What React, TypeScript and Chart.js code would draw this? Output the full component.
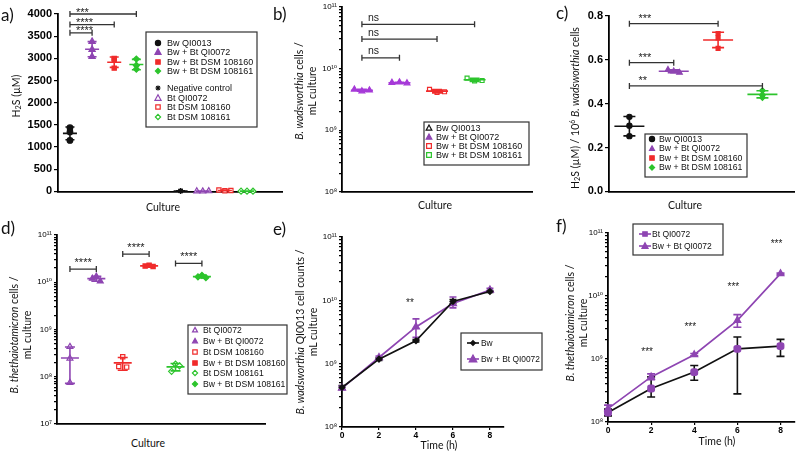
import React, { useEffect, useRef } from 'react';
import { Chart, registerables } from 'chart.js';
Chart.register(...registerables);

// ---------------- DATA ----------------
// a) H2S production (µM)
const A_CATEGORIES = ['Bw QI0013', 'Bw + Bt QI0072', 'Bw + Bt DSM 108160', 'Bw + Bt DSM 108161', '', 'Negative control', 'Bt QI0072', 'Bt DSM 108160', 'Bt DSM 108161'];
const A_REPLICATES: (number[] | null)[] = [[1435, 1340, 1150], [3380, 3200, 3040], [3000, 2960, 2780], [2985, 2840, 2755], null, [12, 10, 8], [6, 3, 8], [30, 14, 20], [6, 6, 4]];
const A_Y_MAX = 4000;
const A_Y_STEP = 500;
const A_BRACKET_FROM = [0, 0, 0];
const A_BRACKET_TO = [1, 2, 3];
const A_BRACKET_Y = [3576, 3762, 4000];
const A_BRACKET_LABELS = ['****', '****', '***'];

// b) B. wadsworthia cells / mL
const B_CATEGORIES = ['Bw QI0013', 'Bw + Bt QI0072', 'Bw + Bt DSM 108160', 'Bw + Bt DSM 108161'];
const B_REPLICATES = [[4.6e9, 4.3e9, 4.45e9], [5.9e9, 6.0e9, 5.8e9], [4.6e9, 4.1e9, 4.2e9], [7.0e9, 6.3e9, 6.4e9]];
const B_BRACKET_FROM = [0, 0, 0];
const B_BRACKET_TO = [1, 2, 3];
const B_BRACKET_Y = [1.49e10, 3.0e10, 5.2e10];
const B_BRACKET_LABELS = ['ns', 'ns', 'ns'];

// c) H2S per 10^6 B. wadsworthia cells
const C_CATEGORIES = ['Bw QI0013', 'Bw + Bt QI0072', 'Bw + Bt DSM 108160', 'Bw + Bt DSM 108161'];
const C_REPLICATES = [[0.34, 0.3, 0.252], [0.555, 0.548, 0.542], [0.72, 0.7, 0.652], [0.46, 0.44, 0.428]];
const C_Y_MAX = 0.8;
const C_Y_STEP = 0.2;
const C_BRACKET_FROM = [0, 0, 0];
const C_BRACKET_TO = [2, 1, 3];
const C_BRACKET_Y = [0.765, 0.587, 0.481];
const C_BRACKET_LABELS = ['***', '***', '**'];

// d) B. thetaiotaomicron cells / mL
const D_CATEGORIES = ['Bt QI0072', 'Bw + Bt QI0072', 'Bt DSM 108160', 'Bw + Bt DSM 108160', 'Bt DSM 108161', 'Bw + Bt DSM 108161'];
const D_REPLICATES = [[4.3e8, 2.45e8, 0.75e8], [1.2e10, 1.33e10, 1.05e10], [1.65e8, 2.65e8, 1.6e8], [2.2e10, 2.3e10, 2.15e10], [1.3e8, 1.85e8, 1.7e8], [1.3e10, 1.4e10, 1.25e10]];
const D_BRACKET_FROM = [0, 2, 4];
const D_BRACKET_TO = [1, 3, 5];
const D_BRACKET_Y = [1.9e10, 3.95e10, 2.5e10];
const D_BRACKET_LABELS = ['****', '****', '****'];

// e) B. wadsworthia growth
const E_TIME = [0, 2, 4, 6, 8];
const E_BW = [4.2e8, 1.18e9, 2.3e9, 9.6e9, 1.38e10];
const E_BW_LOW = [3.9e8, 1.12e9, 2.2e9, 8.9e9, 1.33e10];
const E_BW_HIGH = [4.5e8, 1.25e9, 2.4e9, 1.03e10, 1.43e10];
const E_BWBT = [4.1e8, 1.25e9, 3.8e9, 8.9e9, 1.45e10];
const E_BWBT_LOW = [3.9e8, 1.18e9, 2.6e9, 7.6e9, 1.38e10];
const E_BWBT_HIGH = [4.4e8, 1.32e9, 5.1e9, 1.13e10, 1.55e10];
const E_SIG_TIME = [4];
const E_SIG_Y = [9e9];
const E_SIG_LABELS = ['**'];

// f) B. thetaiotaomicron growth
const F_TIME = [0, 2, 4, 6, 8];
const F_BT = [1.41e8, 3.4e8, 6.2e8, 1.45e9, 1.6e9];
const F_BT_LOW = [1.25e8, 2.5e8, 4.6e8, 2.8e8, 1.1e9];
const F_BT_HIGH = [1.6e8, 5.2e8, 7.9e8, 2.23e9, 2.05e9];
const F_BWBT = [1.63e8, 5.2e8, 1.17e9, 4.1e9, 2.26e10];
const F_BWBT_LOW = [1.45e8, 4.7e8, 1.12e9, 3.2e9, 2.2e10];
const F_BWBT_HIGH = [1.85e8, 5.8e8, 1.22e9, 5.06e9, 2.32e10];
const F_SIG_TIME = [2, 4, 6, 8];
const F_SIG_Y = [1.3e9, 3.2e9, 1.4e10, 6.7e10];
const F_SIG_LABELS = ['***', '***', '***', '***'];

// ---------------- STYLE ----------------
const PURPLE = '#8E45B2';
const B_PURPLE = '#A63AD8';
const RED = '#F02B2B';
const GREEN = '#2CC42C';
const BLACK = '#111111';
const FONT_SANS = "'Liberation Sans', 'DejaVu Sans', Arial, sans-serif";
const FONT_TITLE = "Lato, 'Liberation Sans', sans-serif";

type MarkerStyle = 'circle' | 'triangle' | 'rect' | 'rectRounded' | 'rectRot' | 'star';
type Marker = { style: MarkerStyle; color: string; fill: boolean; r: number; line?: string };

const A_STYLES: (Marker | null)[] = [
  { style: 'circle', color: BLACK, fill: true, r: 2.8 },
  { style: 'triangle', color: PURPLE, fill: true, r: 3.6 },
  { style: 'rect', color: RED, fill: true, r: 3 },
  { style: 'rectRot', color: GREEN, fill: true, r: 3 },
  null,
  { style: 'star', color: BLACK, fill: true, r: 2.8 },
  { style: 'triangle', color: PURPLE, fill: false, r: 3.4 },
  { style: 'rect', color: RED, fill: false, r: 3 },
  { style: 'rectRot', color: GREEN, fill: false, r: 3 },
];
const A_SPREAD = [0, 0, 0, 0, 0, 0, 0.27, 0.27, 0.27];
const B_STYLES: Marker[] = [
  { style: 'triangle', color: B_PURPLE, fill: true, r: 3.4 },
  { style: 'triangle', color: B_PURPLE, fill: true, r: 3.4 },
  { style: 'rect', color: RED, fill: false, r: 2.8 },
  { style: 'rect', color: GREEN, fill: false, r: 2.8 },
];
const B_LEGEND: Marker[] = [
  { style: 'triangle', color: BLACK, fill: false, r: 3 },
  { style: 'triangle', color: PURPLE, fill: true, r: 3 },
  { style: 'rect', color: RED, fill: false, r: 2.8 },
  { style: 'rect', color: GREEN, fill: false, r: 2.8 },
];
const B_SPREAD = [0.2, 0.2, 0.2, 0.2];
const C_STYLES: Marker[] = [
  { style: 'circle', color: BLACK, fill: true, r: 2.6 },
  { style: 'triangle', color: PURPLE, fill: true, r: 3.2 },
  { style: 'rect', color: RED, fill: true, r: 2.8 },
  { style: 'rectRot', color: GREEN, fill: true, r: 2.8 },
];
const C_SPREAD = [0, 0.13, 0, 0];
const D_STYLES: Marker[] = [
  { style: 'triangle', color: PURPLE, fill: false, r: 3.4 },
  { style: 'triangle', color: PURPLE, fill: true, r: 3.4 },
  { style: 'rect', color: RED, fill: false, r: 3 },
  { style: 'rect', color: RED, fill: true, r: 3 },
  { style: 'rectRot', color: GREEN, fill: false, r: 3 },
  { style: 'rectRot', color: GREEN, fill: true, r: 3 },
];
const D_SPREAD = [0, 0.15, 0.15, 0.15, 0.15, 0.15];

// ---------------- HELPERS ----------------
const meanOf = (a: number[]) => a.reduce((s, v) => s + v, 0) / a.length;
const sdOf = (a: number[]) => {
  const m = meanOf(a);
  return Math.sqrt(a.reduce((s, v) => s + (v - m) * (v - m), 0) / (a.length - 1));
};
const SUP = ['⁰', '¹', '²', '³', '⁴', '⁵', '⁶', '⁷', '⁸', '⁹'];
const toSup = (n: number) => String(n).split('').map((c) => SUP[+c]).join('');

function logTicks(min: number, max: number) {
  const out: number[] = [];
  for (let e = Math.round(Math.log10(min)); e <= Math.round(Math.log10(max)); e++) {
    for (let k = 1; k <= 9; k++) {
      const v = Number((k * Math.pow(10, e)).toPrecision(12));
      if (v >= min * 0.999 && v <= max * 1.001) out.push(v);
    }
  }
  return out;
}
function logLabel(v: number) {
  const l = Math.log10(v);
  const r = Math.round(l);
  if (Math.abs(l - r) > 1e-6) return '';
  return '10' + toSup(r);
}

function drawMarker(ctx: CanvasRenderingContext2D, m: Marker, x: number, y: number) {
  const r = m.r;
  ctx.save();
  if (m.line) {
    ctx.strokeStyle = m.line;
    ctx.lineWidth = 1.6;
    ctx.beginPath();
    ctx.moveTo(x - 6, y);
    ctx.lineTo(x + 6, y);
    ctx.stroke();
  }
  ctx.strokeStyle = m.color;
  ctx.fillStyle = m.fill ? m.color : '#fff';
  ctx.lineWidth = 1.2;
  ctx.beginPath();
  switch (m.style) {
    case 'circle':
      ctx.arc(x, y, r, 0, Math.PI * 2);
      break;
    case 'triangle':
      ctx.moveTo(x, y - r);
      ctx.lineTo(x + r * 0.95, y + r * 0.72);
      ctx.lineTo(x - r * 0.95, y + r * 0.72);
      ctx.closePath();
      break;
    case 'rect':
    case 'rectRounded':
      ctx.rect(x - r * 0.85, y - r * 0.85, r * 1.7, r * 1.7);
      break;
    case 'rectRot':
      ctx.moveTo(x, y - r);
      ctx.lineTo(x + r, y);
      ctx.lineTo(x, y + r);
      ctx.lineTo(x - r, y);
      ctx.closePath();
      break;
    case 'star':
      for (let k = 0; k < 4; k++) {
        const a = (k * Math.PI) / 4;
        ctx.moveTo(x + Math.cos(a) * r, y + Math.sin(a) * r);
        ctx.lineTo(x - Math.cos(a) * r, y - Math.sin(a) * r);
      }
      break;
  }
  if (m.style !== 'star') ctx.fill();
  ctx.stroke();
  ctx.restore();
}

type Deco = {
  meanSd?: { groups: { x: number; mean: number; sd: number; color: string }[]; meanW: number; capW: number };
  brackets?: { items: { x1: number; x2: number; y: number; label: string }[]; align: 'left' | 'center'; dx: number; dy: number; font: string };
  errBars?: { items: { x: number; lo: number; hi: number; color: string }[]; capW: number };
  texts?: { items: { x: number; y: number; text: string }[]; dx: number; font: string };
  legend?: { box: [number, number, number, number]; markerX: number; textX: number; rows: { y: number; label: string; marker: Marker }[]; font: string };
};

function decoPlugin(d: Deco, offX: number, offY: number) {
  return {
    id: 'deco',
    beforeDatasetsDraw(chart: any) {
      if (!d.errBars) return;
      const ctx: CanvasRenderingContext2D = chart.ctx;
      const xs = chart.scales.x;
      const ys = chart.scales.y;
      ctx.save();
      ctx.lineWidth = 1.6;
      const c = d.errBars.capW / 2;
      for (const e of d.errBars.items) {
        const px = xs.getPixelForValue(e.x);
        const p1 = ys.getPixelForValue(e.lo);
        const p2 = ys.getPixelForValue(e.hi);
        ctx.strokeStyle = e.color;
        ctx.beginPath();
        ctx.moveTo(px, p1);
        ctx.lineTo(px, p2);
        ctx.moveTo(px - c, p1);
        ctx.lineTo(px + c, p1);
        ctx.moveTo(px - c, p2);
        ctx.lineTo(px + c, p2);
        ctx.stroke();
      }
      ctx.restore();
    },
    afterDatasetsDraw(chart: any) {
      if (!d.meanSd) return;
      const ctx: CanvasRenderingContext2D = chart.ctx;
      const xs = chart.scales.x;
      const ys = chart.scales.y;
      ctx.save();
      ctx.lineWidth = 1.6;
      const hw = d.meanSd.meanW / 2;
      const hc = d.meanSd.capW / 2;
      for (const g of d.meanSd.groups) {
        const px = xs.getPixelForValue(g.x);
        const pm = ys.getPixelForValue(g.mean);
        const lo = Math.max(g.mean - g.sd, ys.min);
        const p1 = ys.getPixelForValue(lo);
        const p2 = ys.getPixelForValue(g.mean + g.sd);
        ctx.strokeStyle = g.color;
        ctx.beginPath();
        ctx.moveTo(px - hw, pm);
        ctx.lineTo(px + hw, pm);
        ctx.moveTo(px, p1);
        ctx.lineTo(px, p2);
        ctx.moveTo(px - hc, p1);
        ctx.lineTo(px + hc, p1);
        ctx.moveTo(px - hc, p2);
        ctx.lineTo(px + hc, p2);
        ctx.stroke();
      }
      ctx.restore();
    },
    afterDraw(chart: any) {
      const ctx: CanvasRenderingContext2D = chart.ctx;
      const xs = chart.scales.x;
      const ys = chart.scales.y;
      if (d.brackets) {
        const b = d.brackets;
        ctx.save();
        ctx.strokeStyle = '#333';
        ctx.fillStyle = '#222';
        ctx.lineWidth = 1.3;
        ctx.font = b.font;
        for (const it of b.items) {
          const x1 = xs.getPixelForValue(it.x1);
          const x2 = xs.getPixelForValue(it.x2);
          const py = ys.getPixelForValue(it.y);
          ctx.beginPath();
          ctx.moveTo(x1, py);
          ctx.lineTo(x2, py);
          ctx.moveTo(x1, py - 3);
          ctx.lineTo(x1, py + 3);
          ctx.moveTo(x2, py - 3);
          ctx.lineTo(x2, py + 3);
          ctx.stroke();
          ctx.textBaseline = 'alphabetic';
          if (b.align === 'left') {
            ctx.textAlign = 'left';
            ctx.fillText(it.label, x1 + b.dx, py + b.dy);
          } else {
            ctx.textAlign = 'center';
            ctx.fillText(it.label, (x1 + x2) / 2 + b.dx, py + b.dy);
          }
        }
        ctx.restore();
      }
      if (d.texts) {
        ctx.save();
        ctx.fillStyle = '#222';
        ctx.font = d.texts.font;
        ctx.textAlign = 'center';
        ctx.textBaseline = 'middle';
        for (const t of d.texts.items) {
          ctx.fillText(t.text, xs.getPixelForValue(t.x) + d.texts.dx, ys.getPixelForValue(t.y));
        }
        ctx.restore();
      }
      if (d.legend) {
        const L = d.legend;
        ctx.save();
        ctx.fillStyle = '#fff';
        ctx.fillRect(L.box[0] - offX, L.box[1] - offY, L.box[2], L.box[3]);
        ctx.strokeStyle = '#333';
        ctx.lineWidth = 1.2;
        ctx.strokeRect(L.box[0] - offX, L.box[1] - offY, L.box[2], L.box[3]);
        ctx.font = L.font;
        ctx.textAlign = 'left';
        ctx.textBaseline = 'middle';
        for (const r of L.rows) {
          drawMarker(ctx, r.marker, L.markerX - offX, r.y - offY);
          ctx.fillStyle = '#111';
          ctx.fillText(r.label, L.textX - offX, r.y - offY + 0.5);
        }
        ctx.restore();
      }
    },
  };
}

const tickGrid = (len: number) => ({ display: true, drawOnChartArea: false, drawTicks: true, tickLength: len, color: '#000', lineWidth: 1.2 });
const axisBorder = { display: true, color: '#000', width: 1.8 };

function linY(min: number, max: number, step: number, width: number, fmt: (v: number) => string) {
  return {
    type: 'linear', min, max,
    afterFit: (s: any) => { s.width = width; },
    ticks: { stepSize: step, callback: (v: any) => fmt(Number(v)), color: '#000', font: { family: FONT_SANS, size: 11, weight: 'bold' }, padding: 2 },
    grid: tickGrid(4),
    border: axisBorder,
  };
}
function logY(min: number, max: number, width: number) {
  return {
    type: 'logarithmic', min, max,
    afterFit: (s: any) => { s.width = width; },
    afterBuildTicks: (s: any) => { s.ticks = logTicks(min, max).map((v) => ({ value: v })); },
    ticks: { autoSkip: false, callback: (v: any) => logLabel(Number(v)), color: '#000', font: { family: FONT_SANS, size: 8 }, padding: 2 },
    grid: tickGrid(3),
    border: axisBorder,
  };
}
function catX(min: number, max: number) {
  return {
    type: 'linear', min, max,
    afterFit: (s: any) => { s.height = 0; },
    ticks: { display: false },
    grid: { display: false },
    border: axisBorder,
  };
}
function timeX(max: number, height: number) {
  return {
    type: 'linear', min: 0, max,
    afterFit: (s: any) => { s.height = height; },
    ticks: { stepSize: 2, includeBounds: false, callback: (v: any) => String(v), color: '#000', font: { family: FONT_SANS, size: 8.5, weight: 'bold' }, padding: 1, maxRotation: 0 },
    grid: tickGrid(3),
    border: axisBorder,
  };
}

function baseOptions(pad: any, x: any, y: any) {
  return {
    animation: false, responsive: false, maintainAspectRatio: false, devicePixelRatio: 1, events: [],
    layout: { padding: pad },
    plugins: { legend: { display: false }, tooltip: { enabled: false } },
    scales: { x, y },
  };
}

function catDatasets(reps: (number[] | null)[], styles: (Marker | null)[], spread: number[]) {
  const out: any[] = [];
  reps.forEach((r, i) => {
    const st = styles[i];
    if (!r || !st) return;
    out.push({
      data: r.map((v, j) => ({ x: i + (j - 1) * spread[i], y: v })),
      pointStyle: st.style,
      pointRadius: st.r,
      pointBackgroundColor: st.fill ? st.color : '#fff',
      pointBorderColor: st.color,
      pointBorderWidth: 1.2,
      showLine: false,
      clip: false,
    });
  });
  return out;
}
function meanGroups(reps: (number[] | null)[], styles: (Marker | null)[]) {
  const out: { x: number; mean: number; sd: number; color: string }[] = [];
  reps.forEach((r, i) => {
    const st = styles[i];
    if (!r || !st) return;
    out.push({ x: i, mean: meanOf(r), sd: sdOf(r), color: st.color });
  });
  return out;
}
function bracketItems(from: number[], to: number[], ys: number[], labels: string[]) {
  return from.map((f, i) => ({ x1: f, x2: to[i], y: ys[i], label: labels[i] }));
}

type Spec = { left: number; top: number; w: number; h: number; config: any; deco: Deco };

function ChartPanel({ spec }: { spec: Spec }) {
  const ref = useRef<HTMLCanvasElement>(null);
  useEffect(() => {
    const chart = new Chart(ref.current as HTMLCanvasElement, { ...spec.config, plugins: [decoPlugin(spec.deco, spec.left, spec.top)] });
    return () => chart.destroy();
  }, []);
  return (
    <canvas
      ref={ref}
      width={spec.w}
      height={spec.h}
      style={{ position: 'absolute', left: spec.left, top: spec.top, width: spec.w, height: spec.h }}
    />
  );
}

// ---------------- PANELS ----------------
const aLegendMarkers = A_STYLES.filter((s) => s) as Marker[];
const aLegendLabels = A_CATEGORIES.filter((c) => c);
const A_LEGEND_ROWS = [43, 52, 62, 71, 88, 98, 107, 117];

const SPEC_A: Spec = {
  left: 0, top: 0, w: 290, h: 200,
  config: {
    type: 'scatter',
    data: { datasets: catDatasets(A_REPLICATES, A_STYLES, A_SPREAD) },
    options: baseOptions({ top: 14, right: 8, bottom: 7, left: 0 }, catX(-0.54, 9.58), linY(0, A_Y_MAX, A_Y_STEP, 58, (v) => String(Math.round(v)))),
  },
  deco: {
    meanSd: { groups: meanGroups(A_REPLICATES, A_STYLES), meanW: 14, capW: 9 },
    brackets: { items: bracketItems(A_BRACKET_FROM, A_BRACKET_TO, A_BRACKET_Y, A_BRACKET_LABELS), align: 'left', dx: 6, dy: 1.5, font: `11px ${FONT_SANS}` },
    legend: {
      box: [146, 32, 111, 95], markerX: 158, textX: 167, font: `9px ${FONT_SANS}`,
      rows: aLegendLabels.map((l, i) => ({ y: A_LEGEND_ROWS[i], label: l, marker: { ...aLegendMarkers[i], r: aLegendMarkers[i].style === 'triangle' ? 3.2 : 2.6 } })),
    },
  },
};

const B_LEGEND_ROWS = [128, 137, 146, 155];
const SPEC_B: Spec = {
  left: 290, top: 0, w: 248, h: 200,
  config: {
    type: 'scatter',
    data: { datasets: catDatasets(B_REPLICATES, B_STYLES, B_SPREAD) },
    options: baseOptions({ top: 5, right: 3, bottom: 8, left: 0 }, catX(-0.53, 4.55), logY(1e8, 1e11, 52)),
  },
  deco: {
    meanSd: { groups: meanGroups(B_REPLICATES, B_STYLES), meanW: 22, capW: 10 },
    brackets: { items: bracketItems(B_BRACKET_FROM, B_BRACKET_TO, B_BRACKET_Y, B_BRACKET_LABELS), align: 'left', dx: 6, dy: -3.5, font: `10.5px ${FONT_SANS}` },
    legend: {
      box: [424, 122, 105, 43], markerX: 429, textX: 436, font: `9px ${FONT_SANS}`,
      rows: B_CATEGORIES.map((l, i) => ({ y: B_LEGEND_ROWS[i], label: l, marker: B_LEGEND[i] })),
    },
  },
};

const C_LEGEND_ROWS = [139, 148.5, 158, 167.5];
const SPEC_C: Spec = {
  left: 540, top: 0, w: 260, h: 200,
  config: {
    type: 'scatter',
    data: { datasets: catDatasets(C_REPLICATES, C_STYLES, C_SPREAD) },
    options: baseOptions({ top: 16, right: 0, bottom: 8, left: 0 }, catX(-0.46, 3.73), linY(0, C_Y_MAX, C_Y_STEP, 69, (v) => v.toFixed(1))),
  },
  deco: {
    meanSd: { groups: meanGroups(C_REPLICATES, C_STYLES), meanW: 30, capW: 12 },
    brackets: { items: bracketItems(C_BRACKET_FROM, C_BRACKET_TO, C_BRACKET_Y, C_BRACKET_LABELS), align: 'left', dx: 9, dy: -1.5, font: `11px ${FONT_SANS}` },
    legend: {
      box: [645, 134, 102, 43], markerX: 652, textX: 659, font: `8.7px ${FONT_SANS}`,
      rows: C_CATEGORIES.map((l, i) => ({ y: C_LEGEND_ROWS[i], label: l, marker: { ...C_STYLES[i], r: 2.6 } })),
    },
  },
};

const D_LEGEND_ROWS = [330, 341, 352, 363, 373, 384];
const SPEC_D: Spec = {
  left: 0, top: 220, w: 290, h: 215,
  config: {
    type: 'scatter',
    data: { datasets: catDatasets(D_REPLICATES, D_STYLES, D_SPREAD) },
    options: baseOptions({ top: 15, right: 25, bottom: 11, left: 0 }, catX(-0.49, 7.39), logY(1e7, 1e11, 57)),
  },
  deco: {
    meanSd: { groups: meanGroups(D_REPLICATES, D_STYLES), meanW: 18, capW: 10 },
    brackets: { items: bracketItems(D_BRACKET_FROM, D_BRACKET_TO, D_BRACKET_Y, D_BRACKET_LABELS), align: 'center', dx: 0, dy: -3, font: `11px ${FONT_SANS}` },
    legend: {
      box: [188, 325, 99, 69], markerX: 195, textX: 203, font: `8.6px ${FONT_SANS}`,
      rows: D_CATEGORIES.map((l, i) => ({ y: D_LEGEND_ROWS[i], label: l, marker: { ...D_STYLES[i], r: 2.6 } })),
    },
  },
};

const SPEC_E: Spec = {
  left: 290, top: 220, w: 258, h: 231,
  config: {
    type: 'scatter',
    data: {
      datasets: [
        { data: E_TIME.map((t, i) => ({ x: t, y: E_BW[i] })), showLine: true, borderColor: BLACK, borderWidth: 1.7, pointStyle: 'rectRot', pointRadius: 2.6, pointBackgroundColor: BLACK, pointBorderColor: BLACK, tension: 0, clip: false },
        { data: E_TIME.map((t, i) => ({ x: t, y: E_BWBT[i] })), showLine: true, borderColor: PURPLE, borderWidth: 1.7, pointStyle: 'triangle', pointRadius: 3.6, pointBackgroundColor: PURPLE, pointBorderColor: PURPLE, tension: 0, clip: false },
      ],
    },
    options: baseOptions({ top: 17, right: 44, bottom: 0, left: 0 }, timeX(8.76, 24), logY(1e8, 1e11, 52)),
  },
  deco: {
    errBars: {
      capW: 7,
      items: [
        ...E_TIME.map((t, i) => ({ x: t, lo: E_BW_LOW[i], hi: E_BW_HIGH[i], color: BLACK })),
        ...E_TIME.map((t, i) => ({ x: t, lo: E_BWBT_LOW[i], hi: E_BWBT_HIGH[i], color: PURPLE })),
      ],
    },
    texts: { items: E_SIG_TIME.map((t, i) => ({ x: t, y: E_SIG_Y[i], text: E_SIG_LABELS[i] })), dx: -6, font: `10px ${FONT_SANS}` },
    legend: {
      box: [461, 333, 81, 37], markerX: 473, textX: 481, font: `8.4px ${FONT_SANS}`,
      rows: [
        { y: 343, label: 'Bw', marker: { style: 'rectRot', color: BLACK, fill: true, r: 2.4, line: BLACK } },
        { y: 359, label: 'Bw + Bt QI0072', marker: { style: 'triangle', color: PURPLE, fill: true, r: 4, line: PURPLE } },
      ],
    },
  },
};

const SPEC_F: Spec = {
  left: 550, top: 220, w: 250, h: 231,
  config: {
    type: 'scatter',
    data: {
      datasets: [
        { data: F_TIME.map((t, i) => ({ x: t, y: F_BT[i] })), showLine: true, borderColor: BLACK, borderWidth: 1.7, pointStyle: 'rectRounded', pointRadius: 3.6, pointBackgroundColor: PURPLE, pointBorderColor: PURPLE, tension: 0, clip: false },
        { data: F_TIME.map((t, i) => ({ x: t, y: F_BWBT[i] })), showLine: true, borderColor: PURPLE, borderWidth: 1.7, pointStyle: 'triangle', pointRadius: 3.4, pointBackgroundColor: PURPLE, pointBorderColor: PURPLE, tension: 0, clip: false },
      ],
    },
    options: baseOptions({ top: 13, right: 3, bottom: 0, left: 0 }, timeX(8.64, 29), logY(1e8, 1e11, 58)),
  },
  deco: {
    errBars: {
      capW: 8,
      items: [
        ...F_TIME.map((t, i) => ({ x: t, lo: F_BT_LOW[i], hi: F_BT_HIGH[i], color: BLACK })),
        ...F_TIME.map((t, i) => ({ x: t, lo: F_BWBT_LOW[i], hi: F_BWBT_HIGH[i], color: PURPLE })),
      ],
    },
    texts: { items: F_SIG_TIME.map((t, i) => ({ x: t, y: F_SIG_Y[i], text: F_SIG_LABELS[i] })), dx: -4, font: `10px ${FONT_SANS}` },
    legend: {
      box: [633, 224, 90, 31], markerX: 645, textX: 652, font: `8.5px ${FONT_SANS}`,
      rows: [
        { y: 234, label: 'Bt QI0072', marker: { style: 'rect', color: PURPLE, fill: true, r: 2.6, line: PURPLE } },
        { y: 246, label: 'Bw + Bt QI0072', marker: { style: 'triangle', color: PURPLE, fill: true, r: 3.2, line: PURPLE } },
      ],
    },
  },
};

const SPECS = [SPEC_A, SPEC_B, SPEC_C, SPEC_D, SPEC_E, SPEC_F];

// ---------------- TEXT OVERLAYS ----------------
function PanelLabel({ text, x, y }: { text: string; x: number; y: number }) {
  return (
    <div style={{ position: 'absolute', left: x, top: y - 11, fontFamily: FONT_TITLE, fontSize: 17, lineHeight: '22px', color: '#111' }}>{text}</div>
  );
}
function XTitle({ text, x, y }: { text: string; x: number; y: number }) {
  return (
    <div style={{ position: 'absolute', left: x, top: y, transform: 'translate(-50%,-50%)', fontFamily: FONT_TITLE, fontSize: 10.5, lineHeight: '13px', whiteSpace: 'nowrap', color: '#111' }}>{text}</div>
  );
}
function YTitle({ x, y, children }: { x: number; y: number; children: any }) {
  return (
    <div style={{ position: 'absolute', left: x, top: y, transform: 'translate(-50%,-50%) rotate(-90deg)', fontFamily: FONT_TITLE, fontSize: 10.5, lineHeight: '13px', whiteSpace: 'nowrap', textAlign: 'center', color: '#111' }}>{children}</div>
  );
}
const subStyle = { fontSize: '0.7em', lineHeight: 0, verticalAlign: '-0.25em' } as const;
const supStyle = { fontSize: '0.65em', lineHeight: 0, verticalAlign: '0.45em' } as const;

export default function App() {
  return (
    <div style={{ position: 'fixed', left: 0, top: 0, width: 800, height: 451, background: '#fff', overflow: 'hidden' }}>
      {SPECS.map((s, i) => <ChartPanel key={i} spec={s} />)}
      <PanelLabel text="a)" x={1} y={15} />
      <PanelLabel text="b)" x={273} y={14} />
      <PanelLabel text="c)" x={556} y={13} />
      <PanelLabel text="d)" x={1} y={228} />
      <PanelLabel text="e)" x={273} y={229} />
      <PanelLabel text="f)" x={556} y={226} />
      <XTitle text="Culture" x={163} y={207} />
      <XTitle text="Culture" x={435} y={205} />
      <XTitle text="Culture" x={685} y={205} />
      <XTitle text="Culture" x={148} y={443} />
      <XTitle text="Time (h)" x={439} y={445} />
      <XTitle text="Time (h)" x={717} y={441} />
      <YTitle x={16} y={96}>H<span style={subStyle}>2</span>S (µM)</YTitle>
      <YTitle x={306} y={91}><i>B. wadsworthia</i> cells /<br />mL culture</YTitle>
      <YTitle x={575} y={108}>H<span style={subStyle}>2</span>S (µM) / 10<span style={supStyle}>6</span> <i>B. wadsworthia</i> cells</YTitle>
      <YTitle x={21} y={335}><i>B. thethaiotamicron</i> cells /<br />mL culture</YTitle>
      <YTitle x={307} y={332}><i>B. wadsworthia</i> QI0013 cell counts /<br />mL culture</YTitle>
      <YTitle x={577} y={323}><i>B. thethaiotamicron</i> cells /<br />mL culture</YTitle>
    </div>
  );
}
